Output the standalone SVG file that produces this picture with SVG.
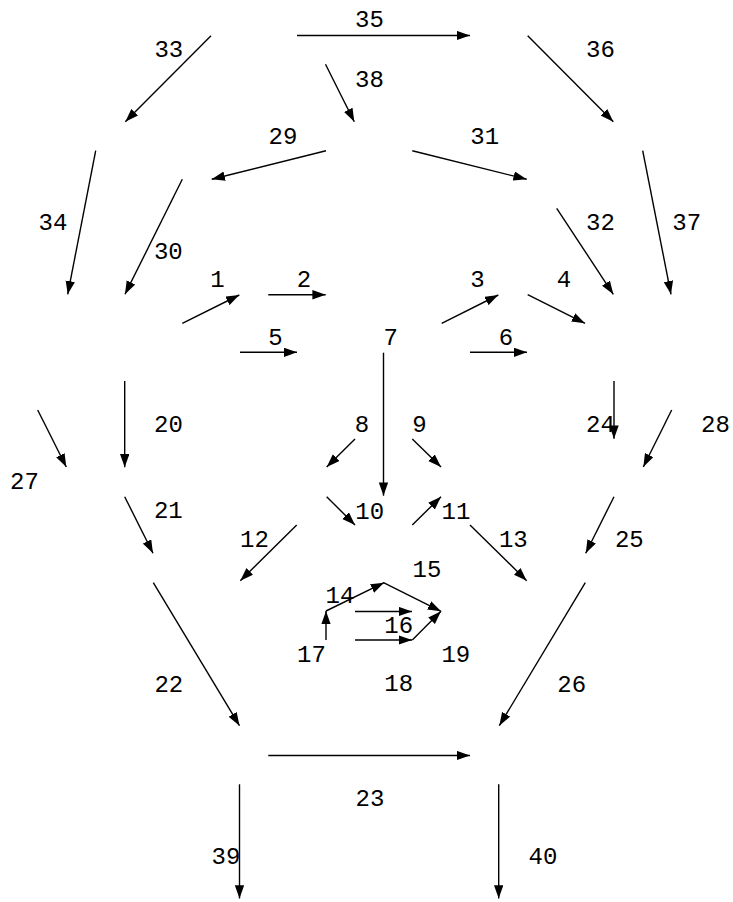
<svg xmlns="http://www.w3.org/2000/svg" width="733" height="902" viewBox="0 0 733 902">
<style>
.e line{stroke:#000;stroke-width:1.4;fill:none;marker-end:url(#ah)}
.e text{font-family:"Liberation Mono","Courier New",monospace;font-size:24px;fill:#000;text-anchor:middle}
</style>
<defs>
<marker id="ah" markerUnits="userSpaceOnUse" markerWidth="14" markerHeight="10" refX="13.3" refY="4.7" orient="auto" viewBox="0 0 14 10">
<path d="M0,0 L13.3,4.7 L0,9.4 z" fill="#000"/>
</marker>
</defs>
<rect width="733" height="902" fill="#fff"/>
<g id="connectors" class="e">
<g id="e35"><line x1="297" y1="35.5" x2="470" y2="35.5"/><text x="369.5" y="27.3">35</text></g>
<g id="e33"><line x1="211" y1="35.7" x2="125.3" y2="121.7"/><text x="168.8" y="57.3">33</text></g>
<g id="e38"><line x1="325.5" y1="64.3" x2="354.3" y2="121.7"/><text x="369.5" y="86.5">38</text></g>
<g id="e36"><line x1="527.7" y1="35.7" x2="613.3" y2="121.7"/><text x="600.5" y="56.7">36</text></g>
<g id="e29"><line x1="326" y1="150.7" x2="211.7" y2="179.3"/><text x="283" y="144">29</text></g>
<g id="e31"><line x1="412.3" y1="150.7" x2="526.7" y2="179.3"/><text x="484.7" y="144">31</text></g>
<g id="e34"><line x1="95.7" y1="150.7" x2="67.7" y2="294.3"/><text x="53" y="230">34</text></g>
<g id="e30"><line x1="182.3" y1="179.3" x2="125" y2="294.3"/><text x="168.3" y="259">30</text></g>
<g id="e32"><line x1="556.7" y1="208.3" x2="613.3" y2="294.3"/><text x="600.5" y="230">32</text></g>
<g id="e37"><line x1="642.7" y1="150.7" x2="671" y2="294.3"/><text x="686.7" y="230">37</text></g>
<g id="e1"><line x1="182.3" y1="323.3" x2="239.3" y2="295"/><text x="217.5" y="287.3">1</text></g>
<g id="e2"><line x1="268.3" y1="294.7" x2="325.7" y2="294.7"/><text x="304" y="287.3">2</text></g>
<g id="e3"><line x1="441.7" y1="323.3" x2="498.3" y2="295"/><text x="477.5" y="287.3">3</text></g>
<g id="e4"><line x1="527.7" y1="294.7" x2="585" y2="323.3"/><text x="564" y="287.3">4</text></g>
<g id="e5"><line x1="240" y1="352.3" x2="297" y2="352.3"/><text x="275.5" y="345">5</text></g>
<g id="e6"><line x1="470" y1="352.3" x2="527" y2="352.3"/><text x="506" y="345">6</text></g>
<g id="e7"><line x1="383.5" y1="352.7" x2="383.5" y2="495.7"/><text x="390.8" y="345">7</text></g>
<g id="e20"><line x1="124.7" y1="381" x2="124.7" y2="467.3"/><text x="168.5" y="432.3">20</text></g>
<g id="e27"><line x1="37.7" y1="410" x2="66.3" y2="467"/><text x="24.5" y="489">27</text></g>
<g id="e8"><line x1="355" y1="439" x2="326.7" y2="467"/><text x="362" y="432.3">8</text></g>
<g id="e9"><line x1="412.3" y1="439" x2="441" y2="467"/><text x="419.5" y="432.3">9</text></g>
<g id="e24"><line x1="614" y1="381" x2="614" y2="438.7"/><text x="600.5" y="432.3">24</text></g>
<g id="e28"><line x1="671.7" y1="410" x2="643.3" y2="467"/><text x="715.5" y="432.3">28</text></g>
<g id="e21"><line x1="124.7" y1="496.7" x2="153" y2="553.3"/><text x="168.3" y="517.7">21</text></g>
<g id="e10"><line x1="326.7" y1="496.7" x2="355" y2="525"/><text x="369.7" y="518.7">10</text></g>
<g id="e11"><line x1="412.3" y1="525" x2="441" y2="496.7"/><text x="456" y="518.7">11</text></g>
<g id="e12"><line x1="296.7" y1="525" x2="240.3" y2="580.7"/><text x="254.5" y="546.7">12</text></g>
<g id="e13"><line x1="470" y1="525" x2="526.7" y2="580.7"/><text x="513.3" y="547.3">13</text></g>
<g id="e25"><line x1="614" y1="496.7" x2="585.7" y2="553.3"/><text x="629.3" y="547.3">25</text></g>
<g id="e14"><line x1="326" y1="611" x2="384" y2="582.7"/><text x="340" y="603.3">14</text></g>
<g id="e15"><line x1="383.5" y1="582.7" x2="441" y2="611.3"/><text x="427" y="576.7">15</text></g>
<g id="e16"><line x1="355" y1="611.5" x2="412" y2="611.5"/><text x="398.7" y="632.7">16</text></g>
<g id="e17"><line x1="326" y1="640" x2="326" y2="611"/><text x="311.5" y="662">17</text></g>
<g id="e18"><line x1="355" y1="640" x2="412" y2="640"/><text x="398.7" y="690.7">18</text></g>
<g id="e19"><line x1="412.3" y1="640" x2="441" y2="611.3"/><text x="455.8" y="661.7">19</text></g>
<g id="e22"><line x1="153.3" y1="582.7" x2="239.5" y2="725.7"/><text x="168.8" y="691.7">22</text></g>
<g id="e26"><line x1="585.3" y1="582.7" x2="499.3" y2="725.7"/><text x="571.7" y="691.7">26</text></g>
<g id="e23"><line x1="268.3" y1="755.5" x2="470" y2="755.5"/><text x="370" y="806">23</text></g>
<g id="e39"><line x1="239.5" y1="784.3" x2="239.5" y2="898.5"/><text x="226" y="864">39</text></g>
<g id="e40"><line x1="498.7" y1="784.3" x2="498.7" y2="898.5"/><text x="543" y="864">40</text></g>
</g>
</svg>
